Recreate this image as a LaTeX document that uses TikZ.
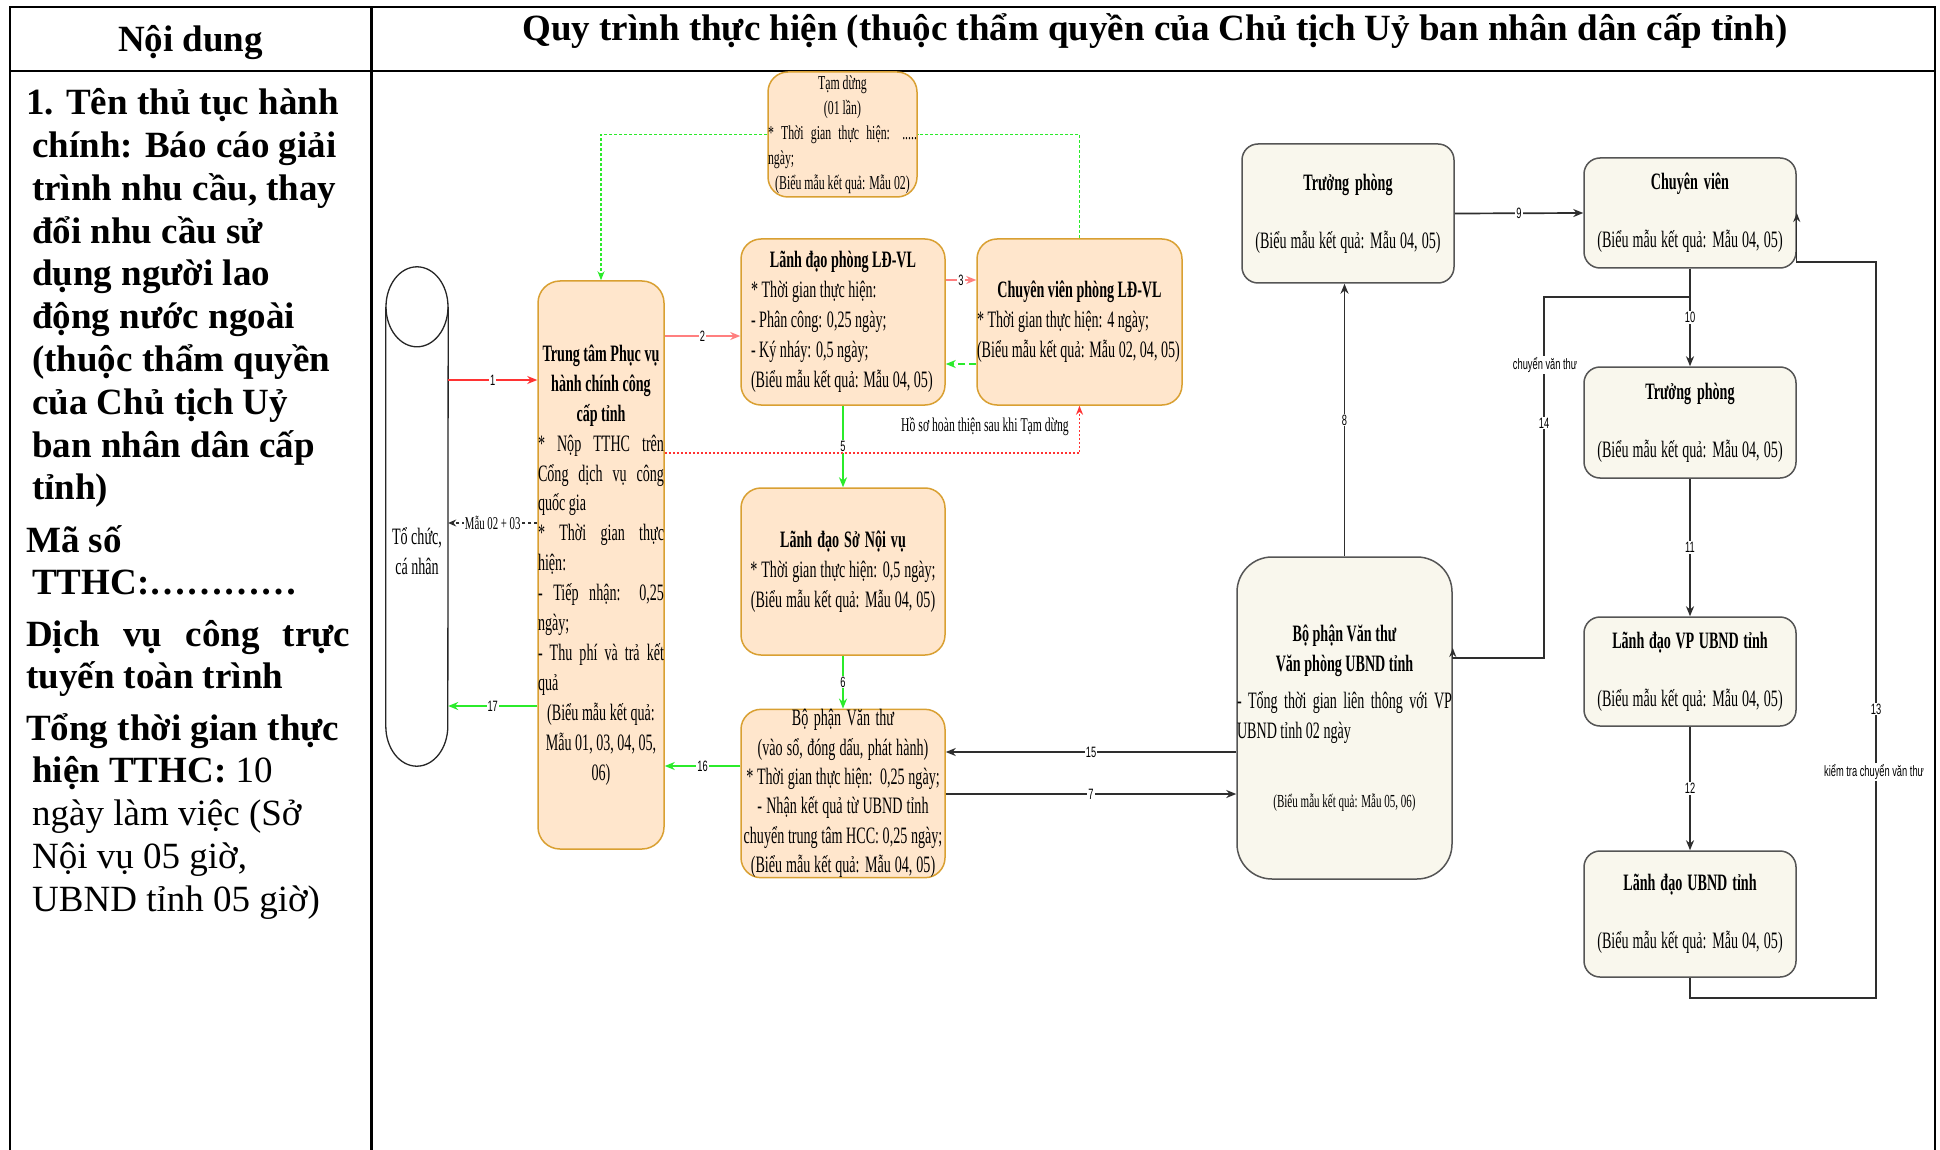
\documentclass[tikz,border=0pt]{standalone}
\usepackage{fontspec}
\setmainfont{Liberation Serif}
\newfontfamily\dgf[FakeStretch=0.6]{Liberation Serif}
\newfontfamily\lbf[FakeStretch=0.62]{Liberation Sans}
\newcommand\dgset[2]{\dgf\fontsize{#1}{#2}\selectfont}
\newcommand\lbset[2]{\lbf\fontsize{#1}{#2}\selectfont}
\usetikzlibrary{arrows.meta}
\definecolor{ofill}{HTML}{FFE6CC}
\definecolor{odraw}{HTML}{D9A032}
\definecolor{gfill}{HTML}{F9F7ED}
\definecolor{gdraw}{HTML}{555555}
\definecolor{cred}{HTML}{FF3333}
\definecolor{cpink}{HTML}{FF7F7F}
\definecolor{cgreen}{HTML}{2BEB2B}
\definecolor{cblk}{HTML}{2E2E2E}
\begin{document}
\begin{tikzpicture}[x=1pt,y=-1pt,
  natsp/.style={execute at begin node={\spaceskip=0pt\xspaceskip=0pt\relax}},
  tbl/.style={line width=2.5pt, black},
  hdr/.style={inner sep=0pt, font=\fontsize{37pt}{44pt}\selectfont\bfseries},
  lt/.style={anchor=base west, inner sep=0pt, font=\fontsize{37pt}{42.75pt}\selectfont\bfseries},
  obox/.style={natsp, draw=odraw, fill=ofill, line width=1.5pt, rounded corners=20pt, inner sep=0pt,
    font=\dgset{23.5pt}{29.9pt}},
  gbox/.style={natsp, draw=gdraw, fill=gfill, line width=1.5pt, rounded corners=16pt, inner sep=0pt,
    align=center, minimum width=212pt, text width=212pt,
    font=\dgset{23.5pt}{29.9pt}},
  tip/.style={-{Stealth[length=10pt,width=8pt]}},
  rcon/.style={tip, draw=cred, line width=1.8pt},
  pcon/.style={tip, draw=cpink, line width=1.8pt},
  gcon/.style={tip, draw=cgreen, line width=1.8pt},
  kcon/.style={tip, draw=cblk, line width=1.7pt},
  kcon2/.style={-{Stealth[length=9pt,width=7pt]}, draw=cblk, line width=1.4pt},
  kdash/.style={-{Stealth[length=8pt,width=7pt]}, draw=cblk, line width=1.1pt, dash pattern=on 3pt off 3pt},
  gdash/.style={-{Stealth[length=10pt,width=8pt]}, draw=cgreen, line width=1.8pt, dash pattern=on 7pt off 4pt},
  gdot/.style={draw=cgreen, line width=1.3pt, dash pattern=on 3pt off 2pt},
  rdot/.style={-{Stealth[length=9pt,width=7pt]}, draw=cred, line width=1.3pt, dash pattern=on 2pt off 2pt},
  lbl/.style={fill=white, inner sep=1pt, font=\lbset{15pt}{17pt}},
  mlbl/.style={fill=white, inner sep=1pt, font=\dgset{18pt}{20pt}},
  hlbl/.style={inner sep=0pt, font=\dgset{19.5pt}{22pt}}
]
\useasboundingbox (0,0) rectangle (1940,1150);
\fill[white] (0,0) rectangle (1940,1150);

% table
\draw[tbl] (10,1150) -- (10,7) -- (1935,7) -- (1935,1150);
\draw[tbl] (10,71) -- (1935,71);
\draw[tbl] (371.5,7) -- (371.5,1150);

\node[hdr, anchor=base] (h1) at (190.5,52) {Nội dung};
\node[hdr, anchor=base] (h2) at (1155,41) {Quy trình thực hiện (thuộc thẩm quyền của Chủ tịch Uỷ ban nhân dân cấp tỉnh)};

% left column
\node[lt] (l1) at (26,115) {1. Tên thủ tục hành};
\node[lt] (l2) at (32,157.75) {chính: Báo cáo giải};
\node[lt] (l3) at (32,200.5) {trình nhu cầu, thay};
\node[lt] (l4) at (32,243.25) {đổi nhu cầu sử};
\node[lt] (l5) at (32,286) {dụng người lao};
\node[lt] (l6) at (32,328.75) {động nước ngoài};
\node[lt] (l7) at (32,371.5) {(thuộc thẩm quyền};
\node[lt] (l8) at (32,414.25) {của Chủ tịch Uỷ};
\node[lt] (l9) at (32,457) {ban nhân dân cấp};
\node[lt] (l10) at (32,499.75) {tỉnh)};
\node[lt] (l11) at (26,552) {Mã số};
\node[lt] (l12) at (32,594.75) {TTHC:…………};
\node[lt] (l13) at (26,646) {\makebox[324pt][s]{Dịch vụ công trực}};
\node[lt] (l14) at (26,688.75) {tuyến toàn trình};
\node[lt] (l15) at (26,740) {Tổng thời gian thực};
\node[lt] (l16) at (32,782.75) {hiện TTHC: {\mdseries 10}};
\node[lt] (l17) at (32,825.5) {\mdseries ngày làm việc (Sở};
\node[lt] (l18) at (32,868.25) {\mdseries Nội vụ 05 giờ,};
\node[lt] (l19) at (32,911) {\mdseries UBND tỉnh 05 giờ)};

% Tổ chức, cá nhân
\node[natsp, inner sep=0pt, minimum width=62pt, minimum height=429pt, align=center,
  font=\dgset{23.5pt}{29.9pt}] (tc) at (417,551.5) {Tổ chức,\\cá nhân};
\draw[line width=1.3pt, black!85] ([yshift=30pt]tc.north west) -- ([yshift=40pt]tc.south west)
  arc[start angle=180, end angle=360, x radius=31pt, y radius=40pt] -- ([yshift=30pt]tc.north east);
\draw[line width=1.3pt, black!85] ([yshift=30pt]tc.north) ellipse [x radius=31pt, y radius=40pt];

% orange boxes
\node[obox, minimum width=149pt, minimum height=125pt, text width=149pt, align=left,
  font=\dgset{19.7pt}{25pt}] (tz) at (842.5,134.5)
  {\makebox[149pt]{Tạm dừng}\\
   \makebox[149pt]{(01 lần)}\\
   \makebox[149pt][s]{{*} Thời gian thực hiện: .....}\\
   ngày;\\
   \makebox[149pt]{(Biểu mẫu kết quả: Mẫu 02)}};

\node[obox, rounded corners=22pt, minimum width=126pt, minimum height=568pt, text width=126pt, align=left] (tt) at (601,565)
  {\makebox[126pt]{\bfseries Trung tâm Phục vụ}\\
   \makebox[126pt]{\bfseries hành chính công}\\
   \makebox[126pt]{\bfseries cấp tỉnh}\\
   \makebox[126pt][s]{{*} Nộp TTHC trên}\\
   \makebox[126pt][s]{Cổng dịch vụ công}\\
   quốc gia\\
   \makebox[126pt][s]{{*} Thời gian thực}\\
   hiện:\\
   \makebox[126pt][s]{- Tiếp nhận: 0,25}\\
   ngày;\\
   \makebox[126pt][s]{- Thu phí và trả kết}\\
   quả\\
   \makebox[126pt]{(Biểu mẫu kết quả:}\\
   \makebox[126pt]{Mẫu 01, 03, 04, 05,}\\
   \makebox[126pt]{06)}};

\node[obox, minimum width=204pt, minimum height=166pt, text width=184pt, align=left] (ldp) at (843,322)
  {\makebox[184pt]{\bfseries Lãnh đạo phòng LĐ-VL}\\
   {*} Thời gian thực hiện:\\
   - Phân công: 0,25 ngày;\\
   - Ký nháy: 0,5 ngày;\\
   (Biểu mẫu kết quả: Mẫu 04, 05)};

\node[obox, minimum width=205pt, minimum height=166pt, text width=205pt, align=left] (cvp) at (1079.5,322)
  {\makebox[205pt]{\bfseries Chuyên viên phòng LĐ-VL}\\
   {*} Thời gian thực hiện: 4 ngày;\\
   (Biểu mẫu kết quả: Mẫu 02, 04, 05)};

\node[obox, minimum width=204pt, minimum height=167pt, text width=204pt, align=center] (snv) at (843,571.5)
  {{\bfseries Lãnh đạo Sở Nội vụ}\\
   {*} Thời gian thực hiện: 0,5 ngày;\\
   (Biểu mẫu kết quả: Mẫu 04, 05)};

\node[obox, minimum width=204pt, minimum height=167pt, text width=204pt, align=center,
  font=\dgset{23.5pt}{29.4pt}] (vt1) at (843,793.5)
  {Bộ phận Văn thư\\
   (vào sổ, đóng dấu, phát hành)\\
   {*} Thời gian thực hiện:\ \ 0,25 ngày;\\
   - Nhận kết quả từ UBND tỉnh\\
   chuyển trung tâm HCC: 0,25 ngày;\\
   (Biểu mẫu kết quả: Mẫu 04, 05)};

% grey boxes
\node[gbox, rounded corners=35pt, minimum width=215pt, minimum height=322pt, text width=215pt, align=left] (vt2) at (1344.5,718)
  {\makebox[215pt]{\bfseries Bộ phận Văn thư}\\
   \makebox[215pt]{\bfseries Văn phòng UBND tỉnh}\\[7pt]
   \makebox[215pt][s]{- Tổng thời gian liên thông với VP}\\
   UBND tỉnh 02 ngày\\[39pt]
   \makebox[215pt]{\dgset{18.4pt}{22pt}(Biểu mẫu kết quả: Mẫu 05, 06)}};

\node[gbox, minimum height=139pt] (tp1) at (1348,213.5)
  {{\bfseries Trưởng phòng}\\[28pt](Biểu mẫu kết quả: Mẫu 04, 05)};
\node[gbox, minimum height=110pt] (cv) at (1690,213)
  {{\bfseries Chuyên viên}\\[28pt](Biểu mẫu kết quả: Mẫu 04, 05)};
\node[gbox, minimum height=111pt] (tp2) at (1690,422.5)
  {{\bfseries Trưởng phòng}\\[28pt](Biểu mẫu kết quả: Mẫu 04, 05)};
\node[gbox, minimum height=109pt] (ldvp) at (1690,671.5)
  {{\bfseries Lãnh đạo VP UBND tỉnh}\\[28pt](Biểu mẫu kết quả: Mẫu 04, 05)};
\node[gbox, minimum height=126pt] (ldu) at (1690,914)
  {{\bfseries Lãnh đạo UBND tỉnh}\\[28pt](Biểu mẫu kết quả: Mẫu 04, 05)};

% connectors
\draw[rcon] (tc.east |- 0,380) -- node[lbl] (n1) {1} (tt.west |- 0,380);
\draw[kdash] (tt.west |- 0,523) -- node[mlbl] (nm) {Mẫu 02 + 03} (tc.east |- 0,523);
\draw[gcon] (tt.west |- 0,706) -- node[lbl] (n17) {17} (tc.east |- 0,706);
\draw[pcon] (tt.east |- 0,336) -- node[lbl] (n2) {2} (ldp.west |- 0,336);
\draw[pcon] (ldp.east |- 0,280) -- node[lbl] (n3) {3} (cvp.west |- 0,280);
\draw[gdash] (cvp.west |- 0,364) -- (ldp.east |- 0,364);
\draw[gcon] (ldp.south) -- node[lbl] (n5) {5} (snv.north);
\draw[gcon] (snv.south) -- node[lbl] (n6) {6} (vt1.north);
\draw[gcon] (vt1.west |- 0,766) -- node[lbl] (n16) {16} (tt.east |- 0,766);
\draw[kcon] (vt1.east |- 0,794) -- node[lbl] (n7) {7} (vt2.west |- 0,794);
\draw[kcon] (vt2.west |- 0,752) -- node[lbl] (n15) {15} (vt1.east |- 0,752);
\draw[kcon] (vt2.north) -- node[lbl] (n8) {8} (vt2.north |- tp1.south);
\draw[kcon] (tp1.east) -- node[lbl] (n9) {9} (cv.west);
\draw[kcon] (cv.south) -- node[lbl] (n10) {10} (tp2.north);
\draw[kcon] (tp2.south) -- node[lbl] (n11) {11} (ldvp.north);
\draw[kcon] (ldvp.south) -- node[lbl] (n12) {12} (ldu.north);
\draw[kcon2] (ldu.south) |- (1876,998) |- (cv.east |- 0,262) -- (cv.east);
\node[lbl] (n13) at (1876,709) {13};
\node[lbl] (k13) at (1874,772) {kiểm tra chuyển văn thư};
\draw[kcon2] (cv.south) |- (1544,297) |- (vt2.east |- 0,658) -- (vt2.east |- 0,648);
\node[lbl] (c14) at (1545,365) {chuyển văn thư};
\node[lbl] (n14) at (1544,423) {14};

\draw[gdot] (cvp.north) |- (tz.east);
\draw[gdot, -{Stealth[length=9pt,width=7pt]}] (tz.west) -| (tt.north);
\draw[rdot] (tt.east |- 0,453) -| (cvp.south);
\node[hlbl] (hs) at (985,427) {Hồ sơ hoàn thiện sau khi Tạm dừng};
\end{tikzpicture}
\end{document}
